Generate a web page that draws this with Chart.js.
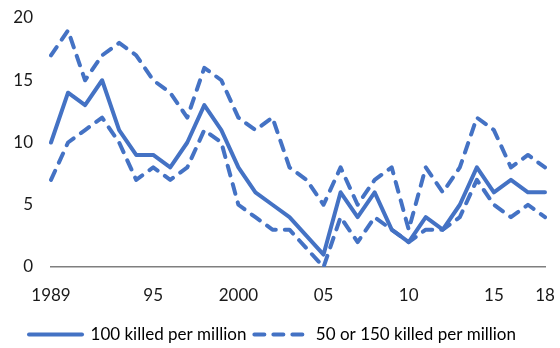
<!DOCTYPE html>
<html>
<head>
<meta charset="utf-8">
<script src="https://cdn.jsdelivr.net/npm/chart.js@4"></script>
<style>
  html, body { margin:0; padding:0; background:#fff; }
  #wrap { width:560px; height:348px; }
</style>
</head>
<body>
<div id="wrap"><canvas id="chart" width="560" height="348"></canvas></div>
<script>
// Road deaths per million: central estimate and 50/150 bounds
const years = [];
for (let y = 1989; y <= 2018; y++) years.push(y);

const mid100 = [10,14,13,15,11,9,9,8,10,13,11,8,6,5,4,2.5,1,6,4,6,3,2,4,3,5,8,6,7,6,6];
const high150 = [17,19,15,17,18,17,15,14,12,16,15,12,11,12,8,7,5,8,5,7,8,3,8,6,8,12,11,8,9,8];
const low50  = [7,10,11,12,10,7,8,7,8,11,10,5,4,3,3,1.5,0,4,2,4,3,2,3,3,4,7,5,4,5,4];

// which years get a label and what it reads
const tickYears  = [1989, 1995, 2000, 2005, 2010, 2015, 2018];
const tickLabels = ['1989', '95', '2000', '05', '10', '15', '18'];
const yTicks = [0, 5, 10, 15, 20];

const C = { blue:'#4472C4', axis:'#7f7f7f', text:'#1a1a1a' };
const FONT = { family:'Lato, "Open Sans", sans-serif', size:17 };
const DASH = [10, 9];

const lineDs = (label, data, dash) => ({
  label, data,
  borderColor: C.blue, backgroundColor: C.blue,
  borderWidth: 4, borderDash: dash, borderCapStyle: 'round', borderJoinStyle: 'round',
  pointRadius: 0, tension: 0, fill: false,
});

new Chart(document.getElementById('chart'), {
  type: 'line',
  data: {
    labels: years,
    datasets: [
      lineDs('100 killed per million', mid100, []),
      lineDs('50 or 150 killed per million', high150, DASH),
      lineDs('50 killed per million', low50, DASH),
    ],
  },
  options: {
    responsive: false,
    animation: false,
    layout: { padding: { left: 0, right: 15, top: 18, bottom: -5 } },
    plugins: {
      tooltip: { enabled: false },
      legend: {
        position: 'bottom',
        labels: {
          color: C.text, font: FONT,
          usePointStyle: true, pointStyle: 'line', pointStyleWidth: 53, boxHeight: 10,
          padding: 8,
          generateLabels: () => [
            { text:'100 killed per million', strokeStyle:C.blue, fillStyle:C.blue, lineWidth:4, lineDash:[], lineCap:'round', pointStyle:'line', datasetIndex:0 },
            { text:'50 or 150 killed per million', strokeStyle:C.blue, fillStyle:C.blue, lineWidth:4, lineDash:DASH, lineCap:'round', pointStyle:'line', datasetIndex:1 },
          ],
        },
      },
    },
    scales: {
      x: {
        grid: { display: false, drawTicks: false },
        border: { display: true, color: C.axis, width: 1.5 },
        afterFit: ax => { ax.height = 51; ax.paddingLeft = 0; ax.paddingRight = 0; },
        ticks: {
          autoSkip: false, maxRotation: 0, padding: 18, color: C.text, font: FONT,
          callback: (v, i) => {
            const k = tickYears.indexOf(years[i]);
            return k >= 0 ? tickLabels[k] : '';
          },
        },
      },
      y: {
        min: 0, max: 20,
        grid: { display: false, drawTicks: false },
        border: { display: false },
        afterFit: ax => { ax.width = 51; ax.paddingTop = 0; ax.paddingBottom = 0; },
        afterBuildTicks: ax => { ax.ticks = yTicks.map(v => ({ value: v })); },
        ticks: { padding: 18, color: C.text, font: FONT },
      },
    },
  },
});
</script>
</body>
</html>
